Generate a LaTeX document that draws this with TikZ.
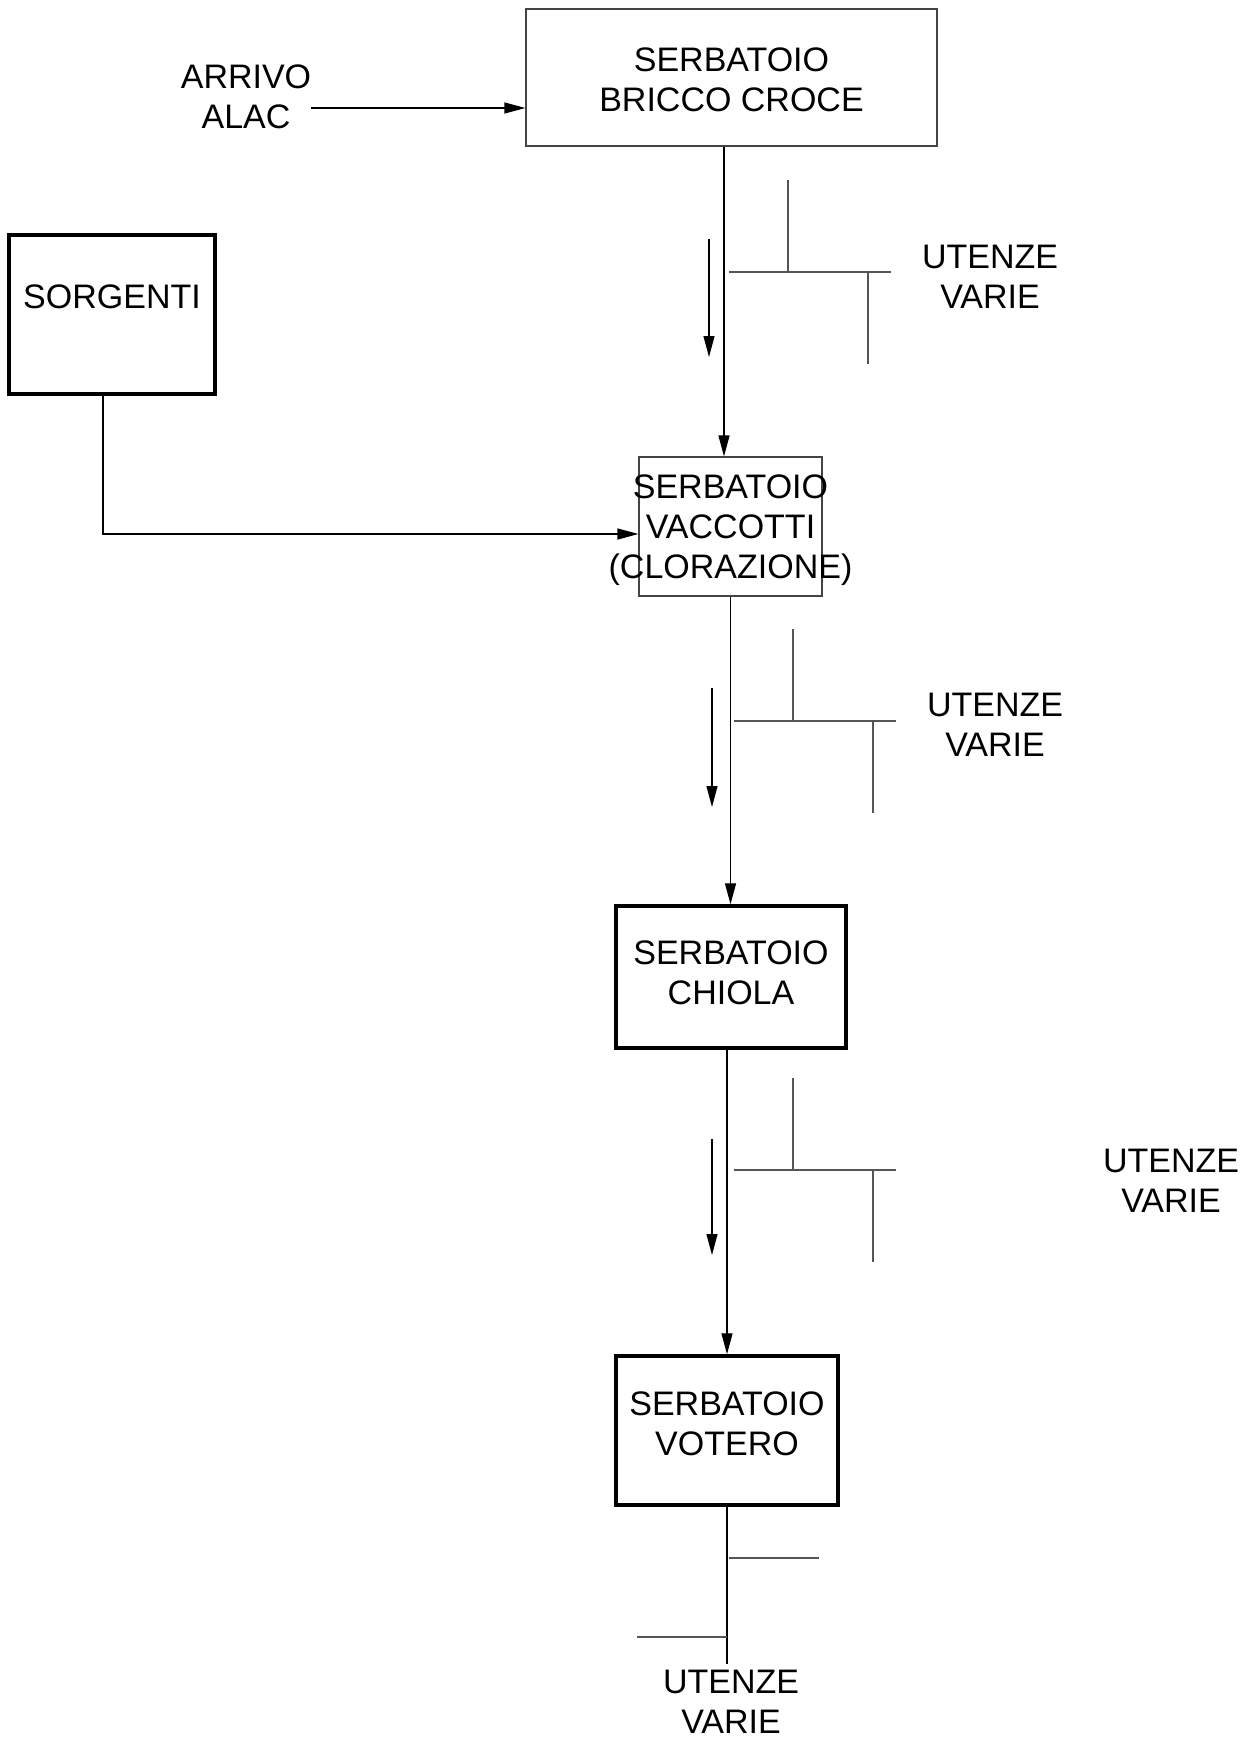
\documentclass[tikz,border=0pt]{standalone}
\usepackage{fontspec}
\setmainfont{Liberation Sans}
\usepackage{xcolor}
\usetikzlibrary{arrows.meta}
\definecolor{tapgray}{HTML}{555555}
\definecolor{boxgray}{HTML}{444444}

\begin{document}
\begin{tikzpicture}[
  x=1pt, y=-1pt,
  >={Triangle[length=21pt,width=11pt]},
  every node/.style={font=\fontsize{34}{40}\selectfont},
  tank/.style={draw=boxgray, line width=1.2pt, inner sep=0pt},
  tankbold/.style={draw=black, line width=3.5pt, inner sep=0pt},
  lab/.style={align=center, inner sep=0pt},
  main/.style={draw=black, line width=1.2pt},
  flow/.style={->, main},
  tap/.style={draw=tapgray, line width=1.6pt}
]
\useasboundingbox (0,0) rectangle (1257,1740);

% serbatoi
\node[tank, minimum width=411, minimum height=137,
  label={[lab, yshift=-2pt]center:SERBATOIO\\BRICCO CROCE}] (bricco) at (731.5,77.5) {};
\node[tankbold, minimum width=206, minimum height=159,
  label={[lab, yshift=17.5pt]center:SORGENTI}] (sorgenti) at (112,314.5) {};
\node[tank, minimum width=183, minimum height=139,
  label={[lab, yshift=-4pt]center:SERBATOIO\\VACCOTTI\\(CLORAZIONE)}] (vaccotti) at (730.5,526.5) {};
\node[tankbold, minimum width=230, minimum height=142,
  label={[lab, yshift=4.5pt]center:SERBATOIO\\CHIOLA}] (chiola) at (731,977) {};
\node[tankbold, minimum width=222, minimum height=149,
  label={[lab, yshift=6.5pt]center:SERBATOIO\\VOTERO}] (votero) at (727,1430.5) {};

% testi
\node[lab] (arrivo) at (246,97) {ARRIVO\\ALAC};
\node[lab] (ut1) at (990,277) {UTENZE\\VARIE};
\node[lab] (ut2) at (995,725) {UTENZE\\VARIE};
\node[lab] (ut3) at (1171,1181) {UTENZE\\VARIE};
\node[lab] (ut4) at (731,1702) {UTENZE\\VARIE};

% linee principali
\coordinate (alacin) at ([yshift=-11pt]arrivo.east);
\draw[flow] (alacin) -- (alacin -| bricco.west);
\draw[flow] ([xshift=-6.5pt]vaccotti.north |- bricco.south) -- ([xshift=-6.5pt]vaccotti.north);
\draw[flow] ([xshift=-9pt]sorgenti.south) |- ([yshift=-7.5pt]vaccotti.west);
\draw[flow] (vaccotti.south) -- (vaccotti.south |- chiola.north);
\draw[flow] (votero.north |- chiola.south) -- (votero.north);
\coordinate (vend) at (727,1664);
\draw[main] (votero.south) -- (votero.south |- vend);

% utenze tra Bricco Croce e Vaccotti
\coordinate (b1) at (729,272);
\draw[tap] (b1) -- ++(162,0);
\draw[tap] (b1) ++(59,0) -- ++(0,-92);
\draw[tap] (b1) ++(139,0) -- ++(0,92);
\coordinate (d1) at (709,239);
\draw[flow] (d1) -- ++(0,118);

% utenze tra Vaccotti e Chiola
\coordinate (b2) at (734,721);
\draw[tap] (b2) -- ++(162,0);
\draw[tap] (b2) ++(59,0) -- ++(0,-92);
\draw[tap] (b2) ++(139,0) -- ++(0,92);
\coordinate (d2) at (712,688);
\draw[flow] (d2) -- ++(0,119);

% utenze tra Chiola e Votero
\coordinate (b3) at (734,1170);
\draw[tap] (b3) -- ++(162,0);
\draw[tap] (b3) ++(59,0) -- ++(0,-92);
\draw[tap] (b3) ++(139,0) -- ++(0,92);
\coordinate (d3) at (712,1139);
\draw[flow] (d3) -- ++(0,116);

% utenze sotto Votero
\coordinate (b4) at (729,1558);
\draw[tap] (b4) -- ++(90,0);
\coordinate (b5) at (727,1637);
\draw[tap] (b5) -- ++(-90,0);
\end{tikzpicture}
\end{document}
